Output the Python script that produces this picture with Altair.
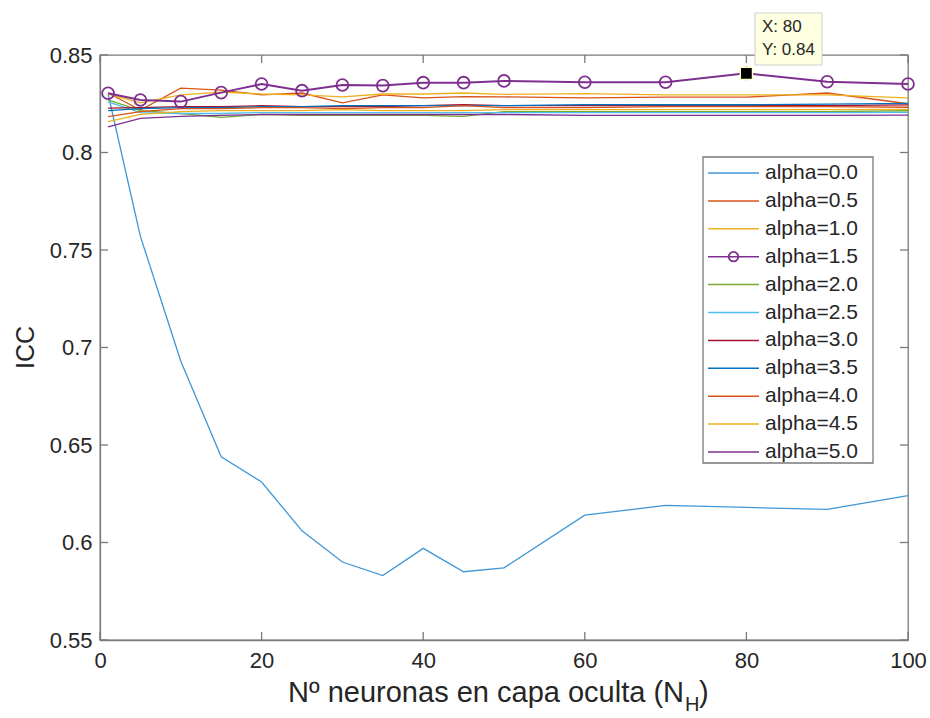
import altair as alt
import pandas as pd

# ---------------- data ----------------
n_hidden = [1, 5, 10, 15, 20, 25, 30, 35, 40, 45, 50, 60, 70, 80, 90, 100]

labels = ["alpha=0.0", "alpha=0.5", "alpha=1.0", "alpha=1.5", "alpha=2.0", "alpha=2.5",
          "alpha=3.0", "alpha=3.5", "alpha=4.0", "alpha=4.5", "alpha=5.0"]
colors = ["#3F97D6", "#D95319", "#EDB120", "#7E2F8E", "#77AC30", "#4DBEEE",
          "#A2142F", "#0072BD", "#D95319", "#EDB120", "#7E2F8E"]

a00 = [0.830, 0.757, 0.693, 0.644, 0.631, 0.606, 0.590, 0.583, 0.597, 0.585, 0.587, 0.614, 0.619, 0.618, 0.617, 0.624]
a05 = [0.8305, 0.8218, 0.8330, 0.8320, 0.8296, 0.8305, 0.8255, 0.8296, 0.8280, 0.8287, 0.8285, 0.8280, 0.8284, 0.8284, 0.8305, 0.8250]
a10 = [0.8300, 0.8255, 0.8295, 0.8310, 0.8300, 0.8295, 0.8285, 0.8300, 0.8300, 0.8305, 0.8298, 0.8302, 0.8296, 0.8296, 0.8296, 0.8280]
a15 = [0.8304, 0.8269, 0.8261, 0.8307, 0.8351, 0.8317, 0.8346, 0.8343, 0.8358, 0.8358, 0.8367, 0.8360, 0.8360, 0.8406, 0.8363, 0.8351]
a20 = [0.8270, 0.8215, 0.8200, 0.8180, 0.8195, 0.8190, 0.8190, 0.8190, 0.8190, 0.8185, 0.8210, 0.8210, 0.8210, 0.8210, 0.8210, 0.8214]
a25 = [0.8260, 0.8205, 0.8200, 0.8200, 0.8205, 0.8205, 0.8205, 0.8205, 0.8205, 0.8205, 0.8205, 0.8205, 0.8205, 0.8205, 0.8205, 0.8206]
a30 = [0.8228, 0.8230, 0.8235, 0.8235, 0.8240, 0.8235, 0.8235, 0.8235, 0.8240, 0.8245, 0.8240, 0.8240, 0.8240, 0.8240, 0.8240, 0.8244]
a35 = [0.8215, 0.8225, 0.8230, 0.8230, 0.8235, 0.8235, 0.8240, 0.8240, 0.8240, 0.8240, 0.8240, 0.8245, 0.8245, 0.8245, 0.8248, 0.8252]
a40 = [0.8184, 0.8210, 0.8225, 0.8225, 0.8230, 0.8230, 0.8225, 0.8230, 0.8230, 0.8240, 0.8230, 0.8230, 0.8235, 0.8235, 0.8235, 0.8232]
a45 = [0.8158, 0.8195, 0.8210, 0.8215, 0.8215, 0.8215, 0.8220, 0.8215, 0.8215, 0.8215, 0.8220, 0.8220, 0.8220, 0.8220, 0.8220, 0.8221]
a50 = [0.8132, 0.8175, 0.8185, 0.8190, 0.8195, 0.8195, 0.8195, 0.8195, 0.8195, 0.8195, 0.8195, 0.8190, 0.8190, 0.8190, 0.8190, 0.8192]
series = [a00, a05, a10, a15, a20, a25, a30, a35, a40, a45, a50]

x_ticks = [0, 20, 40, 60, 80, 100]
y_ticks = [0.55, 0.6, 0.65, 0.7, 0.75, 0.8, 0.85]

tip_x = 80
tip_y = 0.8406

rows = []
for lab, vals in zip(labels, series):
    for xv, yv in zip(n_hidden, vals):
        rows.append({"N": xv, "ICC": yv, "serie": lab})
df = pd.DataFrame(rows)

# ---------------- styling ----------------
W, H = 808, 585
FONT = "Liberation Sans"
AX = "#7a7a7a"
TXT = "#262626"

xs = alt.Scale(domain=[0, 100], nice=False, zero=False)
ys = alt.Scale(domain=[0.55, 0.85], nice=False, zero=False)
cscale = alt.Scale(domain=labels, range=colors)

lines = alt.Chart(df).mark_line().encode(
    x=alt.X("N:Q", scale=xs, axis=alt.Axis(values=x_ticks, title=None, grid=False,
            tickSize=0, labelFontSize=22, labelPadding=10, labelFont=FONT,
            labelColor=TXT, domainColor=AX, domainWidth=1.3, format="d",
            labelFlush=False)),
    y=alt.Y("ICC:Q", scale=ys, axis=alt.Axis(values=y_ticks, title="ICC", grid=False,
            tickSize=0, labelFontSize=22, labelPadding=8, labelFont=FONT,
            labelColor=TXT, domainColor=AX, domainWidth=1.3, format=".2~f",
            labelFlush=False,
            titleFontSize=25, titleFont=FONT, titleColor=TXT, titleFontWeight="normal",
            titleX=-75, titleY=292, titleAngle=270, titleAlign="center",
            titleBaseline="middle")),
    color=alt.Color("serie:N", scale=cscale, legend=None),
    strokeWidth=alt.condition(alt.datum.serie == "alpha=1.5", alt.value(2.0), alt.value(1.3)),
    order=alt.Order("N:Q"),
)

circles = alt.Chart(df).transform_filter(alt.datum.serie == "alpha=1.5").mark_point(
    shape="circle", filled=False, size=140, strokeWidth=1.8, color="#7E2F8E", opacity=1
).encode(
    x=alt.X("N:Q", scale=xs),
    y=alt.Y("ICC:Q", scale=ys, axis=None),
)

tip_df = pd.DataFrame({"N": [tip_x], "ICC": [tip_y]})
marker = alt.Chart(tip_df).mark_point(
    shape="square", filled=True, size=150, color="black", stroke="#FFFFC8",
    strokeWidth=1.5, opacity=1
).encode(x=alt.X("N:Q", scale=xs), y=alt.Y("ICC:Q", scale=ys, axis=None))

# axis ticks pointing inward on all four sides
xt_df = pd.DataFrame({"t": x_ticks})
yt_df = pd.DataFrame({"t": y_ticks})
tick_style = dict(color=AX, strokeWidth=1.3)
xt_bottom = alt.Chart(xt_df).mark_rule(**tick_style).encode(
    x=alt.X("t:Q", scale=xs), y=alt.value(H), y2=alt.value(H - 8))
xt_top = alt.Chart(xt_df).mark_rule(**tick_style).encode(
    x=alt.X("t:Q", scale=xs), y=alt.value(0), y2=alt.value(8))
yt_left = alt.Chart(yt_df).mark_rule(**tick_style).encode(
    y=alt.Y("t:Q", scale=ys, axis=None), x=alt.value(0), x2=alt.value(8))
yt_right = alt.Chart(yt_df).mark_rule(**tick_style).encode(
    y=alt.Y("t:Q", scale=ys, axis=None), x=alt.value(W), x2=alt.value(W - 8))

# legend drawn manually
one = pd.DataFrame({"a": [0]})
leg_df = pd.DataFrame({"serie": labels})
leg_y = alt.Y("serie:N", scale=alt.Scale(type="point", domain=labels, range=[118, 397], padding=0),
              axis=None)
leg_box = alt.Chart(one).mark_rect(fill="white", stroke=AX, strokeWidth=1.3).encode(
    x=alt.value(603), x2=alt.value(773), y=alt.value(102), y2=alt.value(408))
leg_lines = alt.Chart(leg_df).mark_rule(strokeWidth=1.5).encode(
    x=alt.value(608), x2=alt.value(659), y=leg_y,
    color=alt.Color("serie:N", scale=cscale, legend=None))
leg_circle = alt.Chart(leg_df).transform_filter(alt.datum.serie == "alpha=1.5").mark_point(
    shape="circle", filled=False, size=90, strokeWidth=1.8, color="#7E2F8E", opacity=1
).encode(x=alt.value(633.5), y=leg_y)
leg_text = alt.Chart(leg_df).mark_text(
    align="left", baseline="middle", fontSize=21, font=FONT, color=TXT
).encode(x=alt.value(665), y=leg_y, text="serie:N")

# x-axis title with subscript
t_main = alt.Chart(one).mark_text(align="right", baseline="middle", fontSize=29,
                                   font=FONT, color=TXT).encode(
    x=alt.value(584), y=alt.value(638), text=alt.value("Nº neuronas en capa oculta (N"))
t_sub = alt.Chart(one).mark_text(align="left", baseline="middle", fontSize=20,
                                  font=FONT, color=TXT).encode(
    x=alt.value(585), y=alt.value(650), text=alt.value("H"))
t_close = alt.Chart(one).mark_text(align="left", baseline="middle", fontSize=29,
                                    font=FONT, color=TXT).encode(
    x=alt.value(599), y=alt.value(638), text=alt.value(")"))

# data tip box
tip_box = alt.Chart(one).mark_rect(fill="#FFFFE1", stroke="#CFCFCF", strokeWidth=1).encode(
    x=alt.value(655), x2=alt.value(722), y=alt.value(-42), y2=alt.value(10))
tip_t1 = alt.Chart(one).mark_text(align="left", baseline="middle", fontSize=17,
                                   font=FONT, color=TXT).encode(
    x=alt.value(662), y=alt.value(-28), text=alt.value(f"X: {tip_x}"))
tip_t2 = alt.Chart(one).mark_text(align="left", baseline="middle", fontSize=17,
                                   font=FONT, color=TXT).encode(
    x=alt.value(662), y=alt.value(-5), text=alt.value(f"Y: {tip_y:.2f}"))

chart = alt.layer(
    lines, circles, xt_bottom, xt_top, yt_left, yt_right,
    leg_box, leg_lines, leg_circle, leg_text,
    t_main, t_sub, t_close, marker, tip_box, tip_t1, tip_t2,
).resolve_scale(y="independent").properties(
    width=W, height=H,
    autosize=alt.AutoSizeParams(type="none"),
    padding={"left": 100, "top": 55, "right": 22, "bottom": 78},
    background="white",
).configure_view(stroke=AX, strokeWidth=1.3)

chart.save("out.html", embed_options={"renderer": "svg", "actions": False})
